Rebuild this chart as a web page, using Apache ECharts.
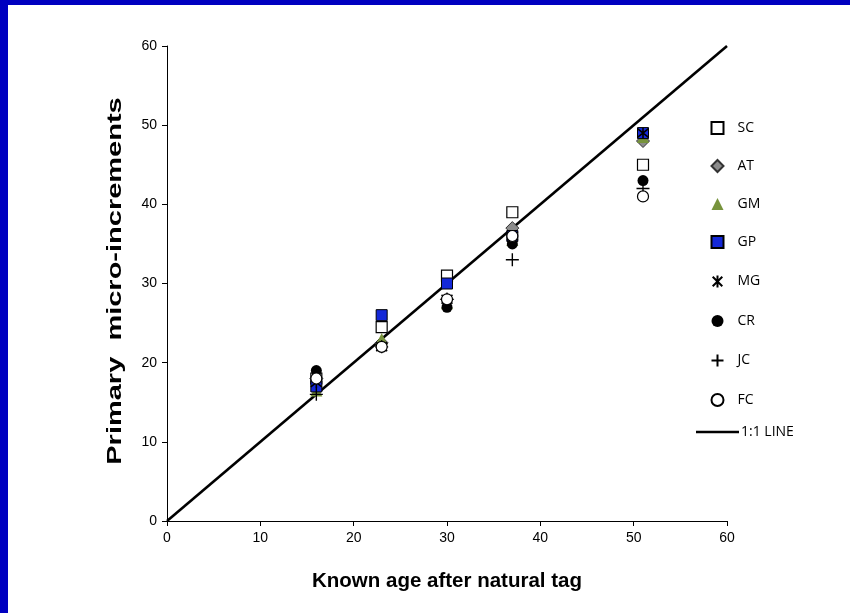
<!DOCTYPE html>
<html><head><meta charset="utf-8">
<script src="https://cdn.jsdelivr.net/npm/echarts@6/dist/echarts.min.js"></script>
<style>html,body{margin:0;padding:0;background:#fff}#c{width:850px;height:613px}</style>
</head><body><div id="c"></div>
<script>
const ages = [16, 23, 30, 37, 51];
const SC = [18, 24.5, 31, 39, 45];
const AT = [18, 22.5, 28, 37, 48];
const GM = [16.5, 23, 27.5, 35.5, 48.5];
const GP = [17, 26, 30, 36, 49];
const MG = [17.5, 22, 28, 36, 49];
const CR = [19, 22, 27, 35, 43];
const JC = [16, 22, 28, 33, 42];
const FC = [18, 22, 28, 36, 41];
const lineX = [0, 60];
const lineY = [0, 60];

const pair = (ys) => ages.map((a, i) => [a, ys[i]]);
const PLUS = 'path://M5,0L5,10M0,5L10,5';
const STAR = 'path://M5,0L5,10M1,1L9,9M9,1L1,9';

const scatterDefs = [
  {name:'SC', d:SC, symbol:'rect', size:11, style:{color:'#ffffff', borderColor:'#000', borderWidth:1.2}},
  {name:'AT', d:AT, symbol:'diamond', size:13, style:{color:'#8c8c8c', borderColor:'#333', borderWidth:1}},
  {name:'GM', d:GM, symbol:'triangle', size:12, style:{color:'#77933c'}},
  {name:'GP', d:GP, symbol:'rect', size:11, style:{color:'#1428d8', borderColor:'#000', borderWidth:1}},
  {name:'MG', d:MG, symbol:STAR, size:11, style:{color:'none', borderColor:'#000', borderWidth:1.6}},
  {name:'CR', d:CR, symbol:'circle', size:11, style:{color:'#000'}},
  {name:'JC', d:JC, symbol:PLUS, size:13, style:{color:'none', borderColor:'#000', borderWidth:1.4}},
  {name:'FC', d:FC, symbol:'circle', size:11, style:{color:'#fff', borderColor:'#000', borderWidth:1.2}}
];

const series = scatterDefs.map(s => ({
  name: s.name, type: 'scatter', data: pair(s.d), symbol: s.symbol, symbolSize: s.size,
  itemStyle: Object.assign({opacity: 1}, s.style), z: 3
}));
series.push({
  name: '1:1 LINE', type: 'line', data: lineX.map((x, i) => [x, lineY[i]]),
  showSymbol: false, symbol: 'none', lineStyle: {color: '#000', width: 2.6}, itemStyle: {color: '#000'}, z: 2, silent: true
});

const chart = echarts.init(document.getElementById('c'));
chart.setOption({
  animation: false,
  backgroundColor: '#fff',
  graphic: [
    {type:'rect', left:0, top:0, shape:{width:8, height:613}, style:{fill:'#0000c0'}},
    {type:'rect', left:0, top:0, shape:{width:850, height:5}, style:{fill:'#0000c0'}},
    {type:'text', x:115, y:281, rotation:Math.PI/2, scaleX:1.45, scaleY:1,
      style:{text:'Primary  micro-increments', fontFamily:'Liberation Sans', fontWeight:'bold', fontSize:20, fill:'#000', align:'center', verticalAlign:'middle'}}
  ],
  grid: {left: 167, right: 123, top: 46, bottom: 92},
  xAxis: {
    type: 'value', min: 0, max: 60, interval: 10,
    name: 'Known age after natural tag', nameLocation: 'middle', nameGap: 50,
    nameTextStyle: {fontFamily: 'Liberation Sans', fontWeight: 'bold', fontSize: 20.5, color: '#000'},
    axisLine: {lineStyle: {color: '#000', width: 1}},
    axisTick: {show: true, length: 5, lineStyle: {color: '#000'}},
    axisLabel: {fontFamily: 'Liberation Sans', fontSize: 14, color: '#000', margin: 10},
    splitLine: {show: false}
  },
  yAxis: {
    type: 'value', min: 0, max: 60, interval: 10,
    axisLine: {show: true, lineStyle: {color: '#000', width: 1}},
    axisTick: {show: true, length: 5, lineStyle: {color: '#000'}},
    axisLabel: {fontFamily: 'Liberation Sans', fontSize: 14, color: '#000', margin: 10},
    splitLine: {show: false}
  },
  legend: [
    {
      data: scatterDefs.map(s => s.name), orient: 'vertical', left: 704, top: 116,
      itemWidth: 12, itemHeight: 12, itemGap: 24,
      textStyle: {fontFamily: 'Open Sans', fontSize: 14, color: '#000', padding: [0, 0, 0, 9]},
      selectedMode: false
    },
    {
      data: [{name: '1:1 LINE', icon: 'rect', itemStyle: {color: '#000'}}], orient: 'vertical', left: 691, top: 420,
      itemWidth: 43, itemHeight: 2.6,
      textStyle: {fontFamily: 'Open Sans', fontSize: 14, color: '#000', padding: [0, 0, 0, -3]},
      selectedMode: false
    }
  ],
  series: series
});
</script></body></html>
